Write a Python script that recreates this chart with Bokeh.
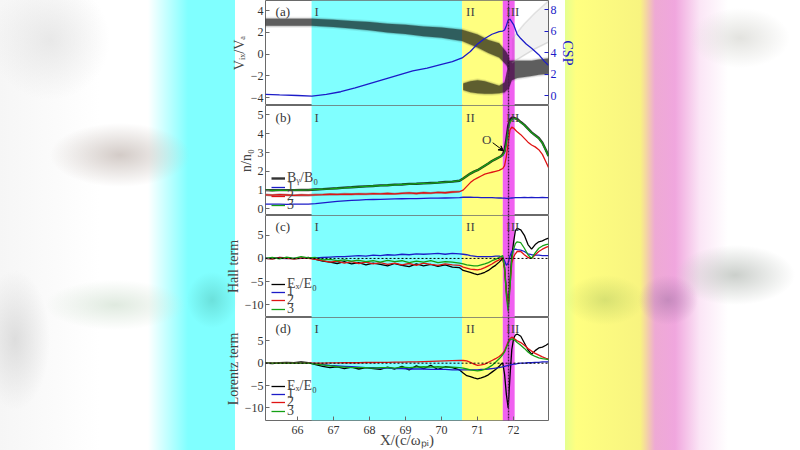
import numpy as np
from bokeh.plotting import figure
from bokeh.models import (Range1d, LinearAxis, BoxAnnotation, Span, Label, Legend,
                          LegendItem, Arrow, VeeHead, Spacer, FixedTicker)
from bokeh.layouts import column, row
from bokeh.embed import file_html
from bokeh.resources import INLINE

# ---------------- data ----------------
X_RANGE = [65.11, 72.97]
X_TICKS = [66, 67, 68, 69, 70, 71, 72]
REGION_EDGES = [66.39, 70.57, 71.70, 72.03]
REGION_NAMES = ["I", "II", "III"]
REGION_LABEL_X = [66.47, 70.68, 71.80]
CS_X = 71.86

# panel (a): particle cloud bands (Vix/VA) and CSP curve
PU_X = [65.1, 66.4, 67.0, 67.5, 68.0, 68.5, 69.0, 69.5, 70.0, 70.57, 71.0, 71.3, 71.6, 71.8, 71.88]
PU_LO = [2.6, 2.6, 2.5, 2.35, 2.2, 2.0, 1.85, 1.65, 1.5, 1.2, 0.6, 0.1, -0.3, -1.0, -1.6]
PU_HI = [3.25, 3.25, 3.15, 3.05, 2.95, 2.8, 2.7, 2.55, 2.45, 2.25, 1.8, 1.3, 1.0, 0.2, -0.3]
PL_X = [70.6, 70.8, 71.0, 71.2, 71.4, 71.6, 71.75, 71.84]
PL_LO = [-3.3, -3.5, -3.6, -3.65, -3.65, -3.6, -3.5, -3.2]
PL_HI = [-2.7, -2.5, -2.4, -2.5, -2.7, -2.9, -2.6, -1.2]
PR_X = [71.84, 71.95, 72.1, 72.3, 72.5, 72.7, 72.97]
PR_LO = [-3.4, -2.4, -2.2, -2.1, -2.0, -1.9, -1.8]
PR_HI = [-0.6, -0.6, -0.6, -0.6, -0.6, -0.5, -0.4]
PF_X = [71.95, 72.3, 72.6, 72.97]
PF_LO = [-0.8, -0.1, 0.5, 1.1]
PF_HI = [1.4, 2.8, 3.8, 4.9]

CSP_X = [65.1, 65.5, 66.0, 66.4, 66.8, 67.2, 67.6, 68.0, 68.4, 68.8, 69.2, 69.6, 70.0, 70.3,
         70.57, 70.8, 71.0, 71.2, 71.4, 71.6, 71.7, 71.75, 71.8, 71.85, 71.9, 72.0, 72.1,
         72.2, 72.35, 72.5, 72.7, 72.85, 72.97]
CSP = [0.1, 0.05, 0.0, -0.05, 0.1, 0.35, 0.7, 1.1, 1.5, 1.9, 2.3, 2.55, 2.9, 3.15,
       3.5, 4.1, 4.8, 5.3, 5.7, 5.95, 6.0, 6.1, 6.5, 7.0, 7.1, 6.6, 5.7,
       5.3, 4.8, 4.4, 3.8, 3.2, 2.8]

# common x grid for panels (b)-(d)
X = [65.1, 65.3, 65.5, 65.7, 65.9, 66.1, 66.3, 66.5, 66.7, 66.9, 67.1, 67.3, 67.5, 67.7,
     67.9, 68.1, 68.3, 68.5, 68.7, 68.9, 69.1, 69.3, 69.5, 69.7, 69.9, 70.1, 70.3, 70.5,
     70.6, 70.7, 70.8, 70.9, 71.0, 71.1, 71.2, 71.3, 71.4, 71.5, 71.6,
     71.65, 71.7, 71.75, 71.8, 71.85, 71.9, 71.95, 72.0, 72.05, 72.1,
     72.2, 72.3, 72.4, 72.5, 72.6, 72.7, 72.8, 72.9, 72.97]

# panel (b): densities
N1 = [0.25, 0.25, 0.25, 0.24, 0.25, 0.25, 0.26, 0.28, 0.32, 0.36, 0.40, 0.43, 0.45, 0.47,
      0.49, 0.50, 0.51, 0.52, 0.53, 0.54, 0.55, 0.55, 0.56, 0.57, 0.57, 0.58, 0.59, 0.60,
      0.62, 0.62, 0.62, 0.61, 0.61, 0.60, 0.60, 0.60, 0.60, 0.59, 0.58,
      0.58, 0.57, 0.57, 0.56, 0.56, 0.57, 0.58, 0.59, 0.60, 0.60,
      0.60, 0.61, 0.60, 0.61, 0.60, 0.60, 0.61, 0.60, 0.60]
N2 = [0.75, 0.73, 0.76, 0.74, 0.72, 0.74, 0.73, 0.75, 0.76, 0.78, 0.77, 0.79, 0.78, 0.80,
      0.79, 0.81, 0.80, 0.82, 0.80, 0.83, 0.85, 0.82, 0.86, 0.84, 0.88, 0.86, 0.90, 0.92,
      1.0, 1.2, 1.4, 1.55, 1.65, 1.75, 1.85, 1.9, 1.95, 2.0, 2.05,
      2.1, 2.15, 2.3, 2.8, 3.5, 4.2, 4.35, 4.3, 4.2, 4.1,
      3.95, 3.75, 3.55, 3.4, 3.3, 3.15, 2.9, 2.5, 2.2]
N3 = [1.0, 0.98, 1.0, 0.99, 1.0, 1.0, 1.01, 1.03, 1.05, 1.07, 1.10, 1.12, 1.15, 1.17,
      1.20, 1.22, 1.24, 1.26, 1.28, 1.30, 1.32, 1.34, 1.36, 1.37, 1.40, 1.42, 1.45, 1.50,
      1.62, 1.75, 1.88, 1.98, 2.06, 2.18, 2.3, 2.42, 2.55, 2.65, 2.75,
      2.8, 2.85, 3.0, 3.5, 4.2, 4.6, 4.75, 4.8, 4.8, 4.75,
      4.6, 4.45, 4.25, 4.05, 3.9, 3.75, 3.5, 3.1, 2.8]
BY = [1.0, 0.99, 1.0, 1.0, 1.0, 1.01, 1.01, 1.03, 1.05, 1.08, 1.10, 1.13, 1.15, 1.18,
      1.20, 1.22, 1.25, 1.26, 1.29, 1.30, 1.33, 1.34, 1.36, 1.38, 1.40, 1.43, 1.45, 1.50,
      1.62, 1.75, 1.88, 1.98, 2.06, 2.18, 2.3, 2.42, 2.55, 2.65, 2.75,
      2.8, 2.9, 3.1, 3.7, 4.4, 4.75, 4.85, 4.85, 4.82, 4.78,
      4.62, 4.47, 4.27, 4.07, 3.92, 3.77, 3.52, 3.12, 2.82]

# panel (c): Hall term
H_E = [0.0, -0.1, 0.2, 0.1, -0.1, 0.0, 0.2, -0.2, -0.6, -0.8, -1.1, -0.7, -1.2, -0.9,
       -1.4, -1.0, -1.3, -1.6, -1.1, -1.5, -1.8, -1.2, -1.6, -1.3, -1.7, -1.4, -1.9, -2.0,
       -2.6, -2.8, -3.0, -3.3, -3.5, -3.3, -3.0, -2.6, -2.0, -1.5, -0.8,
       -0.4, 0.0, -2.0, -7.0, -10.5, -5.0, 0.5, 3.5, 6.0, 6.5,
       6.2, 5.0, 3.0, 2.0, 3.0, 3.6, 3.8, 4.2, 4.4]
H_1 = [0.0, 0.05, 0.0, -0.05, 0.0, 0.05, 0.0, 0.1, 0.2, 0.3, 0.4, 0.4, 0.5, 0.6,
       0.5, 0.7, 0.6, 0.8, 0.7, 0.9, 0.8, 1.0, 0.9, 1.0, 1.1, 0.9, 1.1, 1.0,
       0.9, 0.8, 0.6, 0.5, 0.4, 0.4, 0.4, 0.4, 0.4, 0.5, 0.5,
       0.4, 0.2, -0.5, -1.5, -1.0, 0.5, 1.5, 1.9, 2.0, 1.9,
       1.8, 1.5, 1.0, 0.8, 0.7, 0.7, 0.6, 0.6, 0.6]
H_2 = [0.0, -0.1, 0.1, 0.0, -0.1, 0.1, 0.0, -0.2, -0.5, -0.8, -0.6, -1.0, -0.7, -1.1,
       -0.8, -1.2, -0.9, -1.3, -1.0, -1.4, -1.1, -1.5, -1.0, -1.3, -1.5, -1.2, -1.4, -1.5,
       -1.9, -2.1, -2.3, -2.4, -2.5, -2.3, -2.0, -1.6, -1.2, -0.7, -0.3,
       0.0, 0.2, -2.5, -7.5, -10.0, -6.0, -1.0, 0.3, 1.0, 1.5,
       1.5, 0.8, 0.2, 0.0, 0.8, 1.5, 2.0, 2.4, 2.6]
H_3 = [0.0, 0.2, -0.1, 0.3, 0.0, 0.4, 0.1, 0.2, -0.3, -0.2, -0.5, -0.3, -0.6, -0.4,
       -0.7, -0.5, -0.8, -0.4, -0.7, -0.5, -0.9, -0.6, -0.8, -0.5, -0.9, -0.7, -0.8, -1.0,
       -1.2, -1.4, -1.5, -1.6, -1.6, -1.4, -1.2, -0.9, -0.5, -0.2, 0.2,
       0.4, 0.6, -2.0, -8.0, -11.5, -6.5, 0.0, 2.0, 3.2, 3.6,
       3.4, 2.2, 0.8, 0.0, 1.2, 2.2, 2.7, 3.0, 3.1]

# panel (d): Lorentz term
L_E = [0.0, -0.1, 0.1, 0.2, 0.1, 0.3, 0.1, -0.3, -0.7, -1.0, -0.8, -1.2, -0.9, -1.3,
       -1.0, -1.2, -1.4, -0.9, -1.3, -0.7, -1.5, -0.6, -1.2, -0.5, -1.4, -0.8, -1.0, -1.5,
       -2.2, -2.8, -3.0, -3.3, -3.5, -3.3, -3.0, -2.6, -2.0, -1.4, -0.7,
       -0.2, 0.0, -2.5, -7.0, -10.0, -3.0, 3.0, 5.5, 6.3, 6.5,
       6.0, 4.5, 3.0, 2.0, 2.8, 3.4, 3.6, 4.0, 4.4]
L_1 = [0, 0, 0, 0, 0, 0, 0, -0.1, -0.3, -0.5, -0.6, -0.7, -0.8, -0.9,
       -1.0, -1.0, -1.1, -1.1, -1.2, -1.2, -1.3, -1.3, -1.3, -1.4, -1.4, -1.4, -1.5, -1.5,
       -1.5, -1.5, -1.5, -1.5, -1.5, -1.4, -1.4, -1.3, -1.2, -1.1, -1.0,
       -0.9, -0.8, -0.7, -0.6, -0.5, -0.4, -0.3, -0.2, -0.2, -0.1,
       0.0, 0.0, 0.1, 0.1, 0.2, 0.2, 0.3, 0.3, 0.3]
L_2 = [0, 0, 0, 0, 0, 0, 0, 0, 0, 0.05, 0.05, 0.1, 0.1, 0.1,
       0.15, 0.15, 0.2, 0.2, 0.25, 0.25, 0.3, 0.3, 0.35, 0.4, 0.45, 0.5, 0.55, 0.6,
       0.6, 0.5, 0.2, -0.2, -0.5, -0.4, -0.2, 0.2, 0.6, 1.0, 1.5,
       1.8, 2.2, 2.8, 3.8, 4.8, 5.5, 5.8, 5.6, 5.3, 5.0,
       4.6, 4.0, 3.3, 2.7, 2.2, 1.8, 1.4, 1.1, 0.9]
L_3 = [0, 0, 0, 0, 0, 0, 0, -0.2, -0.4, -0.6, -0.8, -0.9, -1.0, -1.0,
       -1.0, -1.1, -1.0, -1.0, -1.1, -0.9, -1.0, -0.9, -0.8, -0.9, -0.8, -0.9, -0.9, -1.0,
       -1.1, -1.3, -1.5, -1.6, -1.7, -1.6, -1.4, -1.0, -0.5, 0.2, 1.0,
       1.4, 1.9, 2.5, 3.5, 4.5, 5.2, 5.4, 5.3, 5.0, 4.6,
       4.0, 3.3, 2.5, 1.9, 1.5, 1.2, 1.0, 0.9, 0.8]

# ---------------- styling ----------------
FONT = "Liberation Serif"
REGION_COLORS = ["#80ffff", "#ffff80", "#f060f0"]
C_BLUE, C_RED, C_GREEN, C_BLACK = "#1c1cc8", "#e01414", "#14a014", "#000000"
FRAME = "#6a6a6a"
BL, BR, FRAME_W = 46, 30, 283
FIG_W = BL + FRAME_W + BR
LEFT_W = 265 - BL
RIGHT_W = 800 - LEFT_W - FIG_W


def make_panel(h, yr, yticks, letter, show_x=False):
    p = figure(width=FIG_W, height=h, x_range=Range1d(*X_RANGE), y_range=Range1d(*yr),
               toolbar_location=None, output_backend="svg",
               min_border_left=BL, min_border_right=BR, min_border_top=0, min_border_bottom=0)
    p.grid.visible = False
    p.outline_line_color = FRAME
    p.background_fill_color = "white"
    p.border_fill_alpha = 0
    for i in range(3):
        p.add_layout(BoxAnnotation(left=REGION_EDGES[i], right=REGION_EDGES[i + 1],
                                   fill_color=REGION_COLORS[i], fill_alpha=1.0,
                                   line_alpha=0, level="underlay"))
    p.add_layout(Span(location=CS_X, dimension="height", line_color="#4a1a4a",
                      line_width=1.4, line_dash="2 1"))
    ya = p.yaxis[0]
    ya.ticker = FixedTicker(ticks=yticks)
    ya.major_tick_in, ya.major_tick_out = 4, 0
    ya.minor_tick_line_color = None
    ya.axis_line_color = None
    ya.major_tick_line_color = FRAME
    ya.major_label_text_font = FONT
    ya.major_label_text_font_size = "12px"
    ya.major_label_text_color = "#333333"
    ya.major_label_standoff = 2
    ya.axis_label_text_font = FONT
    ya.axis_label_text_font_style = "normal"
    ya.axis_label_text_font_size = "14px"
    ya.axis_label_standoff = 1
    xa = p.xaxis[0]
    if show_x:
        xa.ticker = FixedTicker(ticks=X_TICKS)
        xa.major_tick_in, xa.major_tick_out = 4, 0
        xa.minor_tick_line_color = None
        xa.axis_line_color = None
        xa.major_tick_line_color = FRAME
        xa.major_label_text_font = FONT
        xa.major_label_text_font_size = "12px"
        xa.major_label_text_color = "#333333"
        xa.major_label_standoff = 5
        xa.axis_label = "X/(c/ωₚᵢ)"
        xa.axis_label_text_font = FONT
        xa.axis_label_text_font_style = "normal"
        xa.axis_label_text_font_size = "15px"
        xa.axis_label_standoff = -5
    else:
        xa.visible = False
    top, bot = yr[1], yr[0]
    ylab = top - 0.105 * (top - bot)
    p.add_layout(Label(x=65.39, y=ylab, text=letter, text_font=FONT, text_font_size="13px",
                       text_color="#333333", text_baseline="middle"))
    for name, lx in zip(REGION_NAMES, REGION_LABEL_X):
        p.add_layout(Label(x=lx, y=ylab, text=name, text_font=FONT, text_font_size="13px",
                           text_color="#444444", text_baseline="middle"))
    return p


def add_legend(p, items, offsets):
    # one compact legend per entry so the rows can sit as tightly as in the original
    for (t, r), yoff in zip(items, offsets):
        lg = Legend(items=[LegendItem(label=t, renderers=[r])], location=(6, yoff),
                    background_fill_alpha=0, border_line_alpha=0, label_text_font=FONT,
                    label_text_font_size="14px", glyph_width=14, glyph_height=8,
                    label_height=8, spacing=0, padding=0, margin=0, label_standoff=2)
        p.add_layout(lg)


# ---- panel (a)
YA = (-4.72, 4.93)
pa = make_panel(105, YA, [-4, -2, 0, 2, 4], "(a)")
pa.yaxis[0].axis_label = "Vᵢₓ/Vₐ"
PAD_OUT, PAD_MID = 0.18, 0.07
for xs, lo, hi in [(PU_X, PU_LO, PU_HI), (PL_X, PL_LO, PL_HI), (PR_X, PR_LO, PR_HI)]:
    lo_a, hi_a = np.array(lo), np.array(hi)
    pa.varea(x=xs, y1=lo_a - PAD_OUT, y2=hi_a + PAD_OUT, fill_color="black", fill_alpha=0.08)
    pa.varea(x=xs, y1=lo_a - PAD_MID, y2=hi_a + PAD_MID, fill_color="black", fill_alpha=0.2)
    pa.varea(x=xs, y1=lo_a, y2=hi_a, fill_color="black", fill_alpha=0.5)
pa.varea(x=PF_X, y1=PF_LO, y2=PF_HI, fill_color="black", fill_alpha=0.05)
pa.line(PF_X, PF_LO, line_color="#999999", line_width=1.5, line_alpha=0.3)
pa.line(PF_X, PF_HI, line_color="#aaaaaa", line_width=1.5, line_alpha=0.3)
pa.extra_y_ranges = {"csp": Range1d(-0.93, 8.84)}
pa.line(CSP_X, CSP, line_color=C_BLUE, line_width=1.3, y_range_name="csp")
rax = LinearAxis(y_range_name="csp", ticker=FixedTicker(ticks=[0, 2, 4, 6, 8]),
                 axis_label="CSP", major_tick_in=4, major_tick_out=0,
                 minor_tick_line_color=None, axis_line_color=None,
                 major_tick_line_color=C_BLUE, major_label_text_color=C_BLUE,
                 major_label_text_font=FONT, major_label_text_font_size="12px",
                 major_label_standoff=2, axis_label_text_color=C_BLUE,
                 axis_label_text_font=FONT, axis_label_text_font_style="normal",
                 axis_label_text_font_size="14px", axis_label_standoff=0)
pa.add_layout(rax, "right")

# ---- panel (b)
YB = (-0.35, 5.5)
pb = make_panel(110, YB, [0, 1, 2, 3, 4, 5], "(b)")
pb.yaxis[0].axis_label = "n/n₀"
rb0 = pb.line(X, BY, line_color=C_BLACK, line_width=2.4, line_alpha=0.8)
pb.line(X[:28], N2[:28], line_color="#888888", line_width=2.4, line_alpha=0.8)
rb1 = pb.line(X, N1, line_color=C_BLUE, line_width=1.3)
rb2 = pb.line(X, N2, line_color=C_RED, line_width=1.3)
rb3 = pb.line(X, N3, line_color=C_GREEN, line_width=1.3)
add_legend(pb, [("Bᵧ/B₀", rb0), ("1", rb1), ("2", rb2), ("3", rb3)], [29, 20, 11, 2])
pb.add_layout(Label(x=71.25, y=3.71, text="O", text_font=FONT, text_font_size="13px",
                    text_align="center", text_baseline="middle"))
pb.add_layout(Arrow(end=VeeHead(size=5, fill_color="black", line_color="black"),
                    x_start=71.42, y_start=3.52, x_end=71.72, y_end=3.09, line_width=1))

# ---- panel (c)
YC = (-12.8, 9.3)
pc = make_panel(102, YC, [-10, -5, 0, 5], "(c)")
pc.yaxis[0].axis_label = "Hall term"
pc.add_layout(Span(location=0, dimension="width", line_color="black", line_width=1,
                   line_dash="2 2"))
rc0 = pc.line(X, H_E, line_color=C_BLACK, line_width=1.3)
rc1 = pc.line(X, H_1, line_color=C_BLUE, line_width=1.3)
rc2 = pc.line(X, H_2, line_color=C_RED, line_width=1.3)
rc3 = pc.line(X, H_3, line_color=C_GREEN, line_width=1.3)
add_legend(pc, [("Eₓ/E₀", rc0), ("1", rc1), ("2", rc2), ("3", rc3)], [25, 17, 9, 0])

# ---- panel (d)
YD = (-12.8, 10.2)
pd = make_panel(133, YD, [-10, -5, 0, 5], "(d)", show_x=True)
pd.yaxis[0].axis_label = "Lorentz term"
pd.add_layout(Span(location=0, dimension="width", line_color="black", line_width=1,
                   line_dash="2 2"))
rd0 = pd.line(X, L_E, line_color=C_BLACK, line_width=1.3)
rd1 = pd.line(X, L_1, line_color=C_BLUE, line_width=1.3)
rd2 = pd.line(X, L_2, line_color=C_RED, line_width=1.3)
rd3 = pd.line(X, L_3, line_color=C_GREEN, line_width=1.3)
add_legend(pd, [("Eₓ/E₀", rd0), ("1", rd1), ("2", rd2), ("3", rd3)], [26, 18, 10, 1])

# ---- blurred page background (white chart card between 235 and 565 px)
PAGE_BG = ("radial-gradient(ellipse 70px 32px at 120px 155px, rgba(200,190,185,0.8), rgba(255,255,255,0)),"
           "radial-gradient(ellipse 60px 60px at 50px 40px, rgba(220,220,220,0.6), rgba(255,255,255,0)),"
           "radial-gradient(ellipse 35px 70px at 15px 340px, rgba(210,210,210,0.7), rgba(255,255,255,0)),"
           "radial-gradient(ellipse 70px 25px at 115px 305px, rgba(210,225,210,0.7), rgba(255,255,255,0)),"
           "radial-gradient(ellipse 25px 28px at 212px 300px, rgba(90,200,190,0.55), rgba(128,255,255,0)),"
           "radial-gradient(ellipse 50px 30px at 740px 38px, rgba(215,215,210,0.7), rgba(255,255,255,0)),"
           "radial-gradient(ellipse 60px 30px at 735px 275px, rgba(190,195,190,0.8), rgba(255,255,255,0)),"
           "radial-gradient(ellipse 30px 25px at 668px 300px, rgba(170,120,170,0.6), rgba(255,255,255,0)),"
           "radial-gradient(ellipse 40px 25px at 605px 300px, rgba(180,200,100,0.5), rgba(255,255,255,0)),"
           "linear-gradient(to right, #f6f6f6 0px, #ffffff 100px, #ffffff 148px, #80ffff 188px, "
           "#80ffff 235px, #ffffff 235px, #ffffff 565px, #e4ff90 565px, #ffff80 576px, "
           "#f8f480 640px, #eeaad4 655px, #f0a6de 675px, #fbe6f6 700px, #ffffff 728px, #ffffff 800px)")
left = Spacer(width=LEFT_W, height=450)
right = Spacer(width=RIGHT_W, height=450)

layout = row(left, column(pa, pb, pc, pd, spacing=0), right, spacing=0,
             styles={"background": PAGE_BG})
open("out.html", "w").write(file_html(layout, INLINE))
